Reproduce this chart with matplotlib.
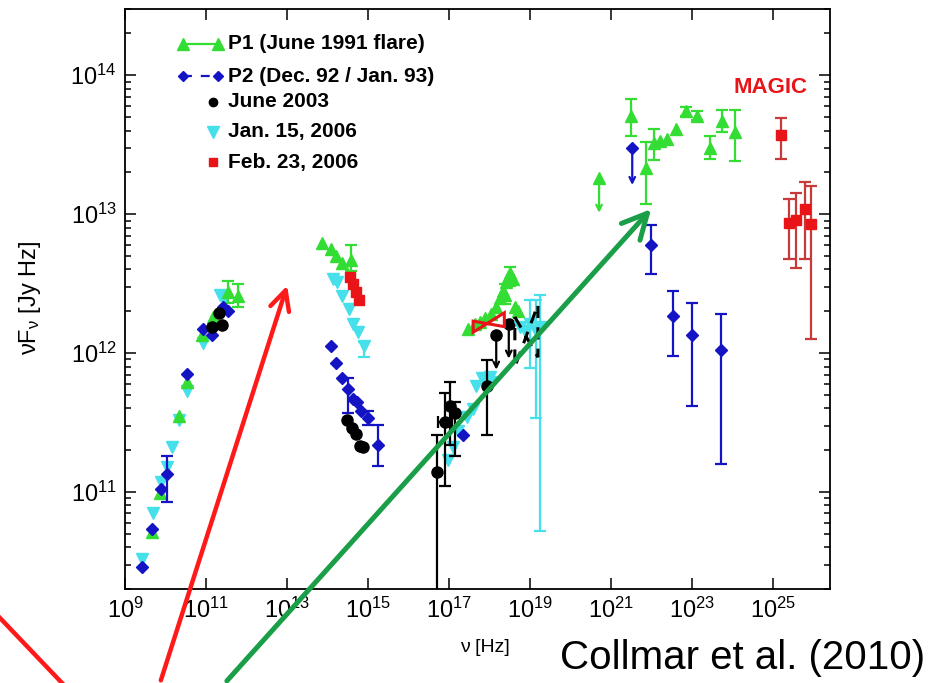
import numpy as np
import matplotlib.pyplot as plt
from matplotlib.lines import Line2D
from matplotlib.patches import Polygon, FancyArrowPatch
from matplotlib.ticker import LogLocator, NullLocator, NullFormatter

plt.rcParams['font.family'] = ['Liberation Sans', 'DejaVu Sans']
plt.rcParams['mathtext.fontset'] = 'custom'
plt.rcParams['mathtext.rm'] = 'Liberation Sans'
plt.rcParams['mathtext.it'] = 'Liberation Sans:italic'
plt.rcParams['mathtext.bf'] = 'Liberation Sans:bold'

GREEN = '#33dd33'
BLUE = '#1414c4'
CYAN = '#45e0ea'
RED = '#e81418'
MAGIC_ERR = '#c83a3a'

# all values are log10(nu [Hz]) and log10(nuF_nu [Jy Hz])

# P1 (June 1991 flare)
p1_nu = [9.67, 9.86, 10.34, 10.54, 10.89, 11.18, 13.87, 14.08, 14.21, 14.35,
         17.48, 17.64, 17.77, 17.89, 18.05, 18.17, 18.26, 18.34, 18.42, 18.46,
         18.51, 18.59, 18.63, 18.71, 22.21, 22.39, 22.62]
p1_f = [10.71, 10.99, 11.55, 11.79, 12.13, 12.26, 12.79, 12.75, 12.70, 12.65,
        12.17, 12.21, 12.22, 12.25, 12.28, 12.33, 12.40, 12.45, 12.51, 12.55,
        12.58, 12.53, 12.33, 12.30, 13.53, 13.54, 13.61]
p1e_nu = [11.55, 11.80, 14.57, 21.51, 21.88, 22.06, 22.87, 23.13, 23.44, 23.75, 24.07, 18.38, 18.50]
p1e_f = [12.44, 12.41, 12.67, 13.71, 13.33, 13.51, 13.74, 13.71, 13.48, 13.67, 13.59, 12.42, 12.55]
p1e_lo = [12.36, 12.33, 12.59, 13.56, 13.07, 13.39, 13.71, 13.68, 13.40, 13.59, 13.38, 12.35, 12.48]
p1e_hi = [12.52, 12.50, 12.78, 13.83, 13.52, 13.61, 13.77, 13.74, 13.56, 13.75, 13.75, 12.50, 12.62]
p1_ul_nu = [20.71]
p1_ul_f = [13.26]
p1_ul_end = [13.01]

# P2 (Dec. 92 / Jan. 93)
p2_nu = [9.41, 9.67, 9.88, 10.54, 10.93, 11.16, 11.43, 11.55,
         14.10, 14.22, 14.35, 14.64, 14.72, 14.82, 17.35]
p2_f = [10.46, 10.73, 11.02, 11.85, 12.17, 12.13, 12.33, 12.30,
        12.05, 11.93, 11.82, 11.67, 11.65, 11.58, 11.41]
p2e_nu = [10.03, 14.51, 15.01, 15.26, 21.99, 22.54, 23.01, 23.72]
p2e_f = [11.13, 11.74, 11.53, 11.34, 12.78, 12.27, 12.13, 12.02]
p2e_lo = [10.93, 11.57, 11.48, 11.19, 12.57, 11.98, 11.62, 11.20]
p2e_hi = [11.26, 11.82, 11.58, 11.48, 12.92, 12.45, 12.36, 12.28]
p2_ul_nu = [21.53]
p2_ul_f = [13.48]
p2_ul_end = [13.21]

# June 2003
bk_nu = [11.16, 11.33, 11.39, 14.49, 14.60, 14.70, 14.80, 14.88]
bk_f = [12.19, 12.29, 12.20, 11.52, 11.46, 11.42, 11.33, 11.32]
bke_nu = [16.70, 16.90, 17.02, 17.15, 17.93]
bke_f = [11.14, 11.50, 11.62, 11.57, 11.76]
bke_lo = [9.00, 11.04, 11.34, 11.26, 11.41]
bke_hi = [11.41, 11.71, 11.79, 11.65, 11.95]
bkx_nu = [16.90]
bkx_f = [11.50]
bkx_lo = [16.72]
bkx_hi = [17.08]
bk_ul_nu = [18.17, 18.48]
bk_ul_f = [12.13, 12.21]
bk_ul_end = [11.88, 11.96]
bk_bow_nu = [18.63, 19.20]
bk_bow_left = [11.90, 12.26]
bk_bow_right = [11.97, 12.35]

# Jan. 15, 2006
cy_nu = [9.41, 9.70, 9.89, 10.03, 10.15, 10.34, 10.52, 10.92, 11.35, 11.45,
         14.13, 14.23, 14.35, 14.54, 14.64, 14.76,
         16.98, 17.10, 17.23, 17.44, 17.60, 17.68, 17.81, 18.01, 18.05, 18.75, 18.88]
cy_f = [10.52, 10.85, 11.07, 11.18, 11.32, 11.52, 11.73, 12.07, 12.42, 12.38,
        12.53, 12.51, 12.41, 12.32, 12.21, 12.15,
        11.23, 11.32, 11.44, 11.54, 11.60, 11.76, 11.82, 11.83, 11.79, 12.19, 12.16]
cye_nu = [14.90, 19.00, 19.16, 19.26]
cye_f = [12.05, 12.21, 12.16, 12.19]
cye_lo = [11.97, 11.89, 11.53, 10.72]
cye_hi = [12.08, 12.38, 12.38, 12.42]

# Feb. 23, 2006
rd_nu = [14.56, 14.64, 14.70, 14.79]
rd_f = [12.55, 12.50, 12.44, 12.38]
rd_bow_nu = [17.60, 18.37]
rd_bow_left = [12.15, 12.23]
rd_bow_right = [12.19, 12.29]
mg_nu = [25.20, 25.40, 25.57, 25.79, 25.95]
mg_f = [13.57, 12.94, 12.96, 13.04, 12.93]
mg_lo = [13.40, 12.68, 12.61, 12.68, 12.10]
mg_hi = [13.69, 13.11, 13.15, 13.23, 13.20]

legend_labels = ['P1 (June 1991 flare)', 'P2 (Dec. 92 / Jan. 93)', 'June 2003',
                 'Jan. 15, 2006', 'Feb. 23, 2006']


def lin(a):
    return 10.0 ** np.asarray(a, dtype=float)


def errs(ax, nu, f, lo, hi, color, marker, ms, ecolor=None, z=3):
    y = lin(f)
    ax.errorbar(lin(nu), y, yerr=[y - lin(lo), lin(hi) - y], fmt=marker, color=color,
                ecolor=ecolor or color, ms=ms, mec=color, elinewidth=1.6, capsize=4,
                capthick=1.6, zorder=z)


def ulim(ax, nu, f, end, color, marker, ms):
    for x, y, e in zip(nu, f, end):
        ax.annotate('', xy=(10 ** x, 10 ** e), xytext=(10 ** x, 10 ** y),
                    arrowprops=dict(arrowstyle='->,head_length=0.4,head_width=0.2',
                                    color=color, lw=1.6, shrinkA=0, shrinkB=0))
    ax.plot(lin(nu), lin(f), marker, color=color, ms=ms, ls='none')


def bowtie(ax, nu, left, right, color, ls, z=4):
    pts = [(10 ** nu[0], 10 ** left[1]), (10 ** nu[1], 10 ** right[0]),
           (10 ** nu[1], 10 ** right[1]), (10 ** nu[0], 10 ** left[0])]
    ax.add_patch(Polygon(pts, closed=True, fill=False, edgecolor=color, lw=2.2,
                         ls=ls, zorder=z))


fig = plt.figure(figsize=(9.31, 6.83), dpi=100)
ax = fig.add_axes([0.1343, 0.1376, 0.7572, 0.8492])
ax.set_xscale('log')
ax.set_yscale('log')

ax.plot(lin(cy_nu), lin(cy_f), 'v', color=CYAN, ms=9, ls='none', zorder=3)
errs(ax, cye_nu, cye_f, cye_lo, cye_hi, CYAN, 'v', 9)
ax.plot(lin(p1_nu), lin(p1_f), '^', color=GREEN, ms=8, ls='none', zorder=3)
errs(ax, p1e_nu, p1e_f, p1e_lo, p1e_hi, GREEN, '^', 8)
ulim(ax, p1_ul_nu, p1_ul_f, p1_ul_end, GREEN, '^', 8)
ax.plot(lin(p2_nu), lin(p2_f), 'D', color=BLUE, ms=6, ls='none', zorder=4)
errs(ax, p2e_nu, p2e_f, p2e_lo, p2e_hi, BLUE, 'D', 6, z=4)
ulim(ax, p2_ul_nu, p2_ul_f, p2_ul_end, BLUE, 'D', 6)
ax.plot(lin(bk_nu), lin(bk_f), 'o', color='black', ms=8, ls='none', zorder=4)
errs(ax, bke_nu, bke_f, bke_lo, bke_hi, 'black', 'o', 8, z=4)
bx = lin(bkx_nu)
ax.errorbar(bx, lin(bkx_f), xerr=[bx - lin(bkx_lo), lin(bkx_hi) - bx], fmt='none',
            ecolor='black', elinewidth=1.6, capsize=4, capthick=1.6, zorder=4)
ulim(ax, bk_ul_nu, bk_ul_f, bk_ul_end, 'black', 'o', 8)
bowtie(ax, bk_bow_nu, bk_bow_left, bk_bow_right, 'black', (0, (4, 3)))
ax.plot(lin(rd_nu), lin(rd_f), 's', color=RED, ms=7, ls='none', zorder=4)
bowtie(ax, rd_bow_nu, rd_bow_left, rd_bow_right, RED, '-', z=5)
errs(ax, mg_nu, mg_f, mg_lo, mg_hi, RED, 's', 7, ecolor=MAGIC_ERR)

ax.set_xlim(1e9, 2.6e26)
ax.set_ylim(2e10, 3e14)
ax.set_xticks([10.0 ** k for k in range(9, 26, 2)])
ax.xaxis.set_minor_locator(NullLocator())
ax.yaxis.set_major_locator(LogLocator(base=10))
ax.yaxis.set_minor_locator(LogLocator(base=10, subs=range(2, 10)))
ax.yaxis.set_minor_formatter(NullFormatter())
ax.tick_params(which='both', direction='in', top=True, right=True, width=1.1)
ax.tick_params(which='major', length=8, labelsize=17, pad=6)
ax.tick_params(which='minor', length=4)
for s in ax.spines.values():
    s.set_linewidth(1.3)

# legend drawn by hand so the single-marker rows look like the original
rows_y = [0.940, 0.884, 0.840, 0.788, 0.736]
tx = 0.146
ax.plot([0.082, 0.132], [rows_y[0]] * 2, '-^', color=GREEN, ms=8, lw=1.6,
        transform=ax.transAxes, clip_on=False)
ax.plot([0.082, 0.132], [rows_y[1]] * 2, '--D', color=BLUE, ms=5, lw=1.6,
        dashes=(4, 4), transform=ax.transAxes, clip_on=False)
ax.plot([0.125], [rows_y[2]], 'o', color='black', ms=6, transform=ax.transAxes)
ax.plot([0.125], [rows_y[3]], 'v', color=CYAN, ms=8, transform=ax.transAxes)
ax.plot([0.125], [rows_y[4]], 's', color=RED, ms=6, transform=ax.transAxes)
for yy, lab in zip(rows_y, legend_labels):
    ax.text(tx, yy, lab, transform=ax.transAxes, fontsize=15, fontweight='bold',
            va='center', ha='left')

ax.text(0.915, 0.864, 'MAGIC', transform=ax.transAxes, color=RED, fontsize=16,
        fontweight='bold', ha='center', va='center')

fig.text(30 / 931, 1 - 298 / 683, r'νF$_{\mathrm{ν}}$ [Jy Hz]', rotation=90, fontsize=17,
         ha='center', va='center')
fig.text(485 / 931, 1 - 648 / 683, 'ν [Hz]', fontsize=14, ha='center', va='center')
fig.text(925 / 931, 1 - 658 / 683, 'Collmar et al. (2010)', fontsize=29,
         ha='right', va='center')

# overlaid annotation arrows
fig.add_artist(Line2D([0, 62 / 931], [1 - 618 / 683, 0], color='#ff1a1a', lw=3.2,
                      transform=fig.transFigure, zorder=10))
fig.add_artist(FancyArrowPatch((160 / 931, 0), (288 / 931, 1 - 283 / 683),
                               arrowstyle='->,head_length=0.7,head_width=0.35',
                               mutation_scale=20, color='#ff1a1a', lw=3.2,
                               transform=fig.transFigure, zorder=10))
fig.add_artist(FancyArrowPatch((225 / 931, 0), (653 / 931, 1 - 207 / 683),
                               arrowstyle='->,head_length=0.9,head_width=0.45',
                               mutation_scale=20, color='#1a9e48', lw=3.6,
                               transform=fig.transFigure, zorder=10))

fig.savefig('out.png', dpi=100)
